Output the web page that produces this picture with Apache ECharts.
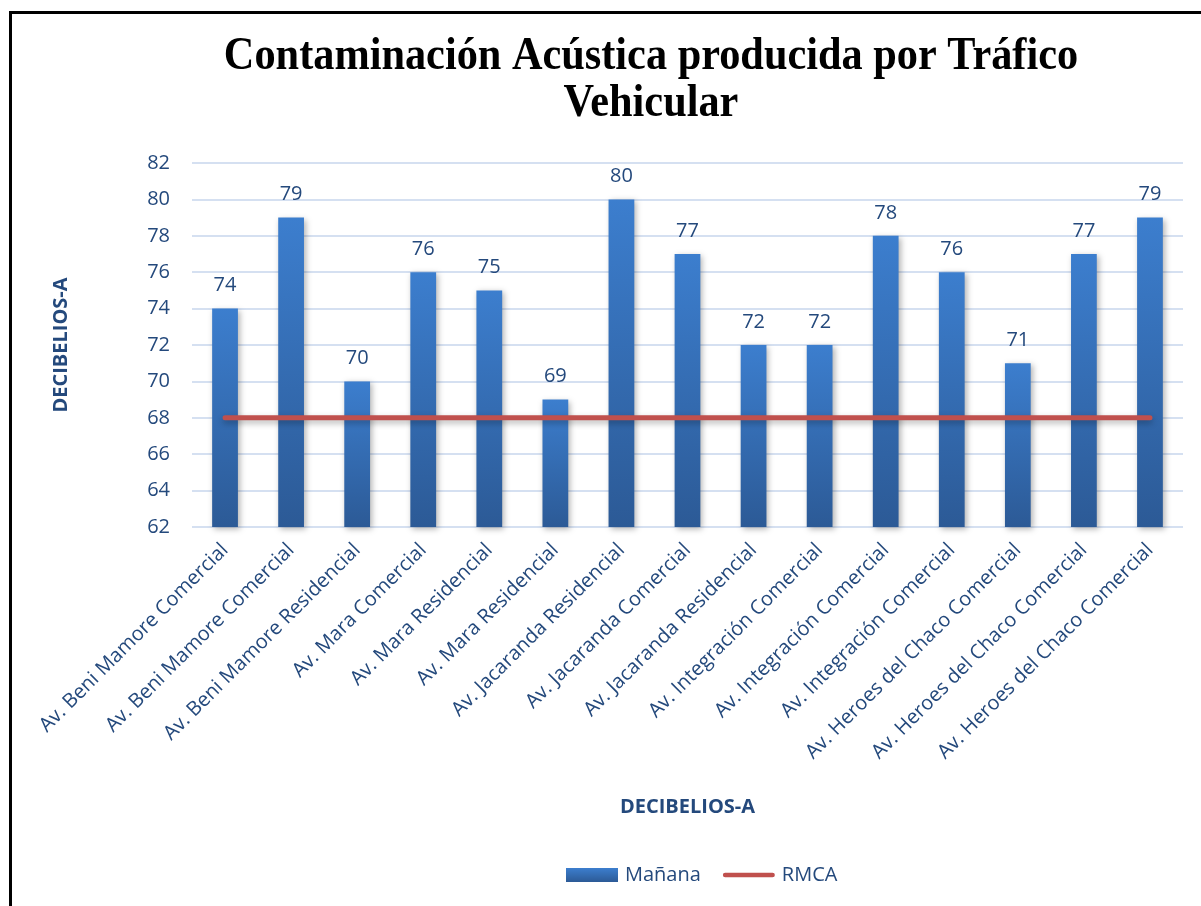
<!DOCTYPE html>
<html>
<head>
<meta charset="utf-8">
<script src="https://cdn.jsdelivr.net/npm/echarts@6/dist/echarts.min.js"></script>
<style>
  html, body { margin: 0; padding: 0; background: #fff; overflow: hidden; }
  #frame { position: absolute; left: 9px; top: 11px; width: 1300px; height: 1000px;
           border-top: 3px solid #000; border-left: 3px solid #000; }
  #main { position: absolute; left: 0; top: 0; width: 1201px; height: 906px; }
</style>
</head>
<body>
<div id="frame"></div>
<div id="main"></div>
<script>
var categories = [
  'Av. Beni Mamore Comercial', 'Av. Beni Mamore Comercial', 'Av. Beni Mamore Residencial',
  'Av. Mara Comercial', 'Av. Mara Residencial', 'Av. Mara Residencial',
  'Av. Jacaranda Residencial', 'Av. Jacaranda Comercial', 'Av. Jacaranda Residencial',
  'Av. Integración Comercial', 'Av. Integración Comercial', 'Av. Integración Comercial',
  'Av. Heroes del Chaco Comercial', 'Av. Heroes del Chaco Comercial', 'Av. Heroes del Chaco Comercial'
];
var manana = [74, 79, 70, 76, 75, 69, 80, 77, 72, 72, 78, 76, 71, 77, 79];
var rmca = [68, 68, 68, 68, 68, 68, 68, 68, 68, 68, 68, 68, 68, 68, 68];

var textBlue = '#24497C';
var font = 'Open Sans';

var myChart = echarts.init(document.getElementById('main'), null, { renderer: 'canvas' });

var barGradient = new echarts.graphic.LinearGradient(0, 0, 0, 1, [
  { offset: 0, color: '#3C7ECE' },
  { offset: 1, color: '#2C5A96' }
]);

option = {
  backgroundColor: 'transparent',
  graphic: [{
    type: 'text',
    x: 651,
    y: 34,
    scaleX: 0.92,
    style: {
      text: 'Contaminación Acústica producida por Tráfico\nVehicular',
      font: 'bold 46px "Liberation Serif"',
      lineHeight: 47,
      fill: '#000',
      align: 'center',
      verticalAlign: 'top'
    }
  }],
  legend: {
    left: 561,
    top: 860,
    itemWidth: 52,
    itemHeight: 14,
    itemGap: 22,
    textStyle: { fontFamily: font, fontSize: 20, color: textBlue, padding: [0, 0, 0, 2] },
    data: [
      { name: 'Mañana', icon: 'rect' },
      {
        name: 'RMCA',
        icon: 'path://M2.5,0 L53.5,0 A2.5,2.5 0 0 1 53.5,5 L2.5,5 A2.5,2.5 0 0 1 2.5,0 Z',
        itemStyle: { color: '#C0504D' }
      }
    ]
  },
  grid: {
    left: 192,
    right: 18,
    top: 163,
    bottom: 379
  },
  xAxis: {
    type: 'category',
    data: categories,
    name: 'DECIBELIOS-A',
    nameLocation: 'middle',
    nameGap: 270,
    nameTextStyle: { fontFamily: font, fontSize: 20, fontWeight: 'bold', color: textBlue },
    axisLine: { show: false },
    axisTick: { show: false },
    axisLabel: {
      interval: 0,
      rotate: 45,
      margin: 20,
      fontFamily: font,
      fontSize: 20,
      color: textBlue
    }
  },
  yAxis: {
    type: 'value',
    min: 62,
    max: 82,
    interval: 2,
    name: 'DECIBELIOS-A',
    nameLocation: 'middle',
    nameGap: 121,
    nameTextStyle: { fontFamily: font, fontSize: 20, fontWeight: 'bold', color: textBlue },
    axisLine: { show: false },
    axisTick: { show: false },
    axisLabel: { margin: 22, fontFamily: font, fontSize: 20, color: textBlue },
    splitLine: { lineStyle: { color: '#D5E0F1', width: 2 } }
  },
  series: [
    {
      name: 'Mañana',
      type: 'bar',
      data: manana,
      barWidth: '39%',
      itemStyle: {
        color: barGradient,
        shadowBlur: 6,
        shadowColor: 'rgba(0,0,0,0.3)',
        shadowOffsetX: 2,
        shadowOffsetY: 2
      },
      label: {
        show: true,
        position: 'top',
        distance: 13,
        fontFamily: font,
        fontSize: 20,
        color: textBlue
      }
    },
    {
      name: 'RMCA',
      type: 'line',
      data: rmca,
      symbol: 'none',
      color: '#C0504D',
      lineStyle: {
        color: '#C0504D',
        width: 5,
        cap: 'round',
        shadowBlur: 6,
        shadowColor: 'rgba(0,0,0,0.3)',
        shadowOffsetY: 3
      },
      z: 3
    }
  ]
};

myChart.setOption(option);
</script>
</body>
</html>
